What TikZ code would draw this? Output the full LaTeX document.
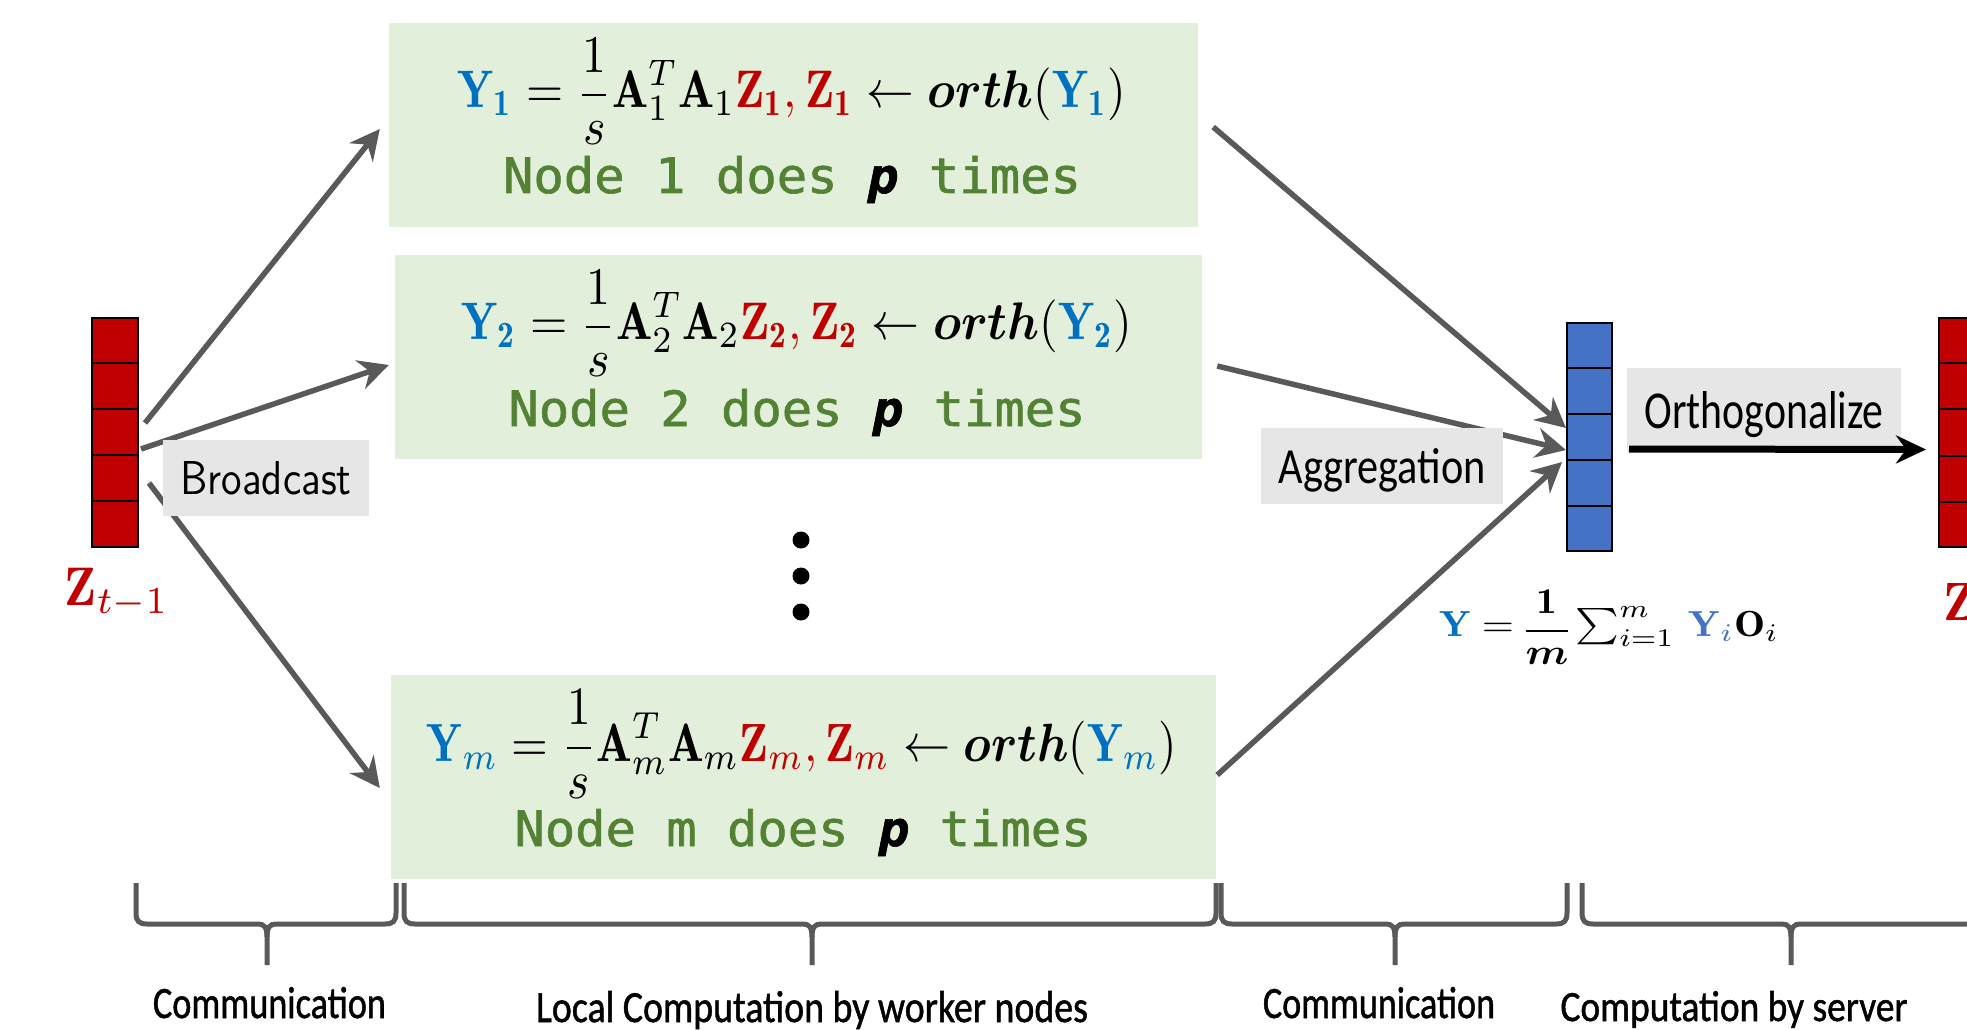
\RequirePackage{fix-cm}
\documentclass[tikz,border=0pt]{standalone}
\usepackage{amsmath,bm}
\usepackage{graphicx}
\usepackage{fontspec}
\newfontfamily\monofont[FakeBold=1.3]{DejaVu Sans Mono}
\newfontfamily\lblfont{Carlito}
\newfontfamily\botfont[FakeBold=1.2]{Carlito}
\usetikzlibrary{arrows.meta,calc}
\definecolor{ybl}{HTML}{0070C0}
\definecolor{ylt}{HTML}{4472C4}
\definecolor{zrd}{HTML}{C00000}
\definecolor{grn}{HTML}{548235}
\definecolor{boxfill}{HTML}{E2EFDA}
\definecolor{lblfill}{HTML}{E7E6E6}
\definecolor{arrgray}{HTML}{595959}
\newcommand\myBrace[3]{%
  \draw[bracestyle] (#1,883) -- (#1,913) .. controls (#1,921) and (#1+3,924) .. (#1+11,924) -- (#2-9,924) .. controls (#2-3,924) and (#2,927) .. (#2,937) -- (#2,965);
  \draw[bracestyle] (#3,883) -- (#3,913) .. controls (#3,921) and (#3-3,924) .. (#3-11,924) -- (#2+9,924) .. controls (#2+3,924) and (#2,927) .. (#2,937);
}
\newcommand\myTightFrac[2]{\mathord{\vcenter{\hbox{\shortstack{$#1$\\[1.5pt]\rule{1.0em}{0.07em}\\[1.5pt]$#2$}}}}}
\tikzset{
  workbox/.style={rectangle, fill=boxfill, inner sep=0pt, minimum height=204pt},
  txt/.style={inner sep=0pt, outer sep=0pt},
  vecbox/.style={rectangle, draw=black, line width=2pt, inner sep=0pt, minimum width=46pt, minimum height=229pt},
  cellline/.style={draw=black, line width=2pt},
  lblbox/.style={rectangle, fill=lblfill, inner sep=0pt, text depth=0pt},
  garrow/.style={draw=arrgray, line width=5.5pt, -{Stealth[length=30pt,width=30pt,inset=10pt]}},
  karrow/.style={draw=black, line width=7pt, -{Stealth[length=30pt,width=28pt,inset=10pt]}},
  bracestyle/.style={draw=arrgray, line width=5pt},
  dotstyle/.style={circle, fill=black, inner sep=0pt, minimum size=17pt},
}
\begin{document}
\begin{tikzpicture}[x=1pt,y=-1pt]
\useasboundingbox (0,0) rectangle (1967,1030);
\clip (0,0) rectangle (1967,1030);

% worker boxes
\node[workbox, minimum width=809pt] (box1) at (793.5,125) {};
\node[workbox, minimum width=807pt] (box2) at (798.5,357) {};
\node[workbox, minimum width=825pt] (boxm) at (803.5,777) {};

% formulas
\node[txt] (f1) at (792,91) {\resizebox*{668pt}{106pt}{$\displaystyle {\color{ybl}\mathbf{Y_1}} = \frac{1}{s}\mathbf{A}_1^T\mathbf{A}_1{\color{zrd}\mathbf{Z_1},\mathbf{Z_1}} \leftarrow \bm{orth}({\color{ybl}\mathbf{Y_1}})$}};
\node[txt] (f2) at (797,323) {\resizebox*{671pt}{106pt}{$\displaystyle {\color{ybl}\mathbf{Y_2}} = \frac{1}{s}\mathbf{A}_2^T\mathbf{A}_2{\color{zrd}\mathbf{Z_2},\mathbf{Z_2}} \leftarrow \bm{orth}({\color{ybl}\mathbf{Y_2}})$}};
\node[txt] (fm) at (802,744) {\resizebox*{750pt}{108pt}{$\displaystyle {\color{ybl}\mathbf{Y}_m} = \frac{1}{s}\mathbf{A}_m^T\mathbf{A}_m{\color{zrd}\mathbf{Z}_m,\mathbf{Z}_m} \leftarrow \bm{orth}({\color{ybl}\mathbf{Y}_m})$}};

% node texts
\node[txt, anchor=base, text=grn] (n1) at (792,193) {\resizebox{578pt}{37pt}{\monofont Node 1 does {\color{black}\bfseries\itshape p} times}};
\node[txt, anchor=base, text=grn] (n2) at (797,426) {\resizebox{577pt}{37pt}{\monofont Node 2 does {\color{black}\bfseries\itshape p} times}};
\node[txt, anchor=base, text=grn] (nm) at (803,846) {\resizebox{577pt}{37pt}{\monofont Node m does {\color{black}\bfseries\itshape p} times}};

% dots
\node[dotstyle] (d1) at (801,540) {};
\node[dotstyle] (d2) at (801,576) {};
\node[dotstyle] (d3) at (801,612) {};

% vectors
\node[vecbox, fill=zrd] (zvec) at (115,432) {};
\node[vecbox, fill=ylt, minimum width=45pt, minimum height=228pt] (yvec) at (1589.5,437) {};
\node[vecbox, fill=zrd] (znext) at (1962,432.5) {};
\foreach \v in {zvec,yvec,znext}{
  \foreach \k in {1,...,4}{
    \draw[cellline] ($(\v.north west)!\k/5!(\v.south west)$) -- ($(\v.north east)!\k/5!(\v.south east)$);
  }
}

% vector labels
\node[txt] (zlab) at (117,593) {\resizebox*{104pt}{50pt}{$\color{zrd}\mathbf{Z}_{t-1}$}};
\node[txt, anchor=north west] (znlab) at (1943,583) {\resizebox{33pt}{37pt}{$\color{zrd}\mathbf{Z}$}};
\node[txt] (ylab) at (1609,627) {\resizebox*{340pt}{75pt}{$\displaystyle {\color{ybl}\mathbf{Y}} = \myTightFrac{\mathbf{1}}{\bm{m}}\textstyle\sum_{i=1}^{m}\,{\color{ylt}\mathbf{Y}_{i}}\mathbf{O}_i$}};

% broadcast arrows
\draw[garrow] ($(zvec.east)+(6,-9)$) -- ($(box1.west)+(-9,4)$);
\draw[garrow] ($(zvec.east)+(2,17)$) -- ($(box2.west)+(-6,8)$);
\draw[garrow] ($(zvec.east)+(10,51)$) -- ($(boxm.west)+(-11,11)$);

% aggregation arrows
\draw[garrow] ($(box1.east)+(15,2)$) -- ($(yvec.west)+(0,-9)$);
\draw[garrow] ($(box2.east)+(15,9)$) -- ($(yvec.west)+(0,13)$);
\draw[garrow] ($(boxm.east)+(1,-2)$) -- ($(yvec.west)+(-4,25)$);

% gray labels
\node[lblbox, minimum width=206pt, minimum height=76pt] (bcast) at (266,478) {\resizebox{171pt}{33pt}{\sffamily Broadcast}};
\node[lblbox, minimum width=242pt, minimum height=76pt] (aggr) at (1382,466) {\resizebox{207pt}{35pt}{\lblfont Aggregation}};
\node[lblbox, minimum width=274pt, minimum height=84pt] (orth) at (1764,410) {\resizebox{239pt}{37pt}{\lblfont Orthogonalize}};

% orthogonalize arrow
\draw[karrow] ($(yvec.east)+(16,12)$) -- ($(znext.west)+(-12,17)$);

% braces
\myBrace{136}{267}{396}
\myBrace{404}{812}{1216}
\myBrace{1221}{1395}{1567}
\myBrace{1582}{1791}{2000}

% bottom labels
\node[txt, anchor=base] (c1) at (269.5,1018) {\resizebox{233pt}{31pt}{\botfont Communication}};
\node[txt, anchor=base] (c2) at (812,1022) {\resizebox{552pt}{31pt}{\botfont Local Computation by worker nodes}};
\node[txt, anchor=base] (c3) at (1379,1018) {\resizebox{232pt}{31pt}{\botfont Communication}};
\node[txt, anchor=base] (c4) at (1734,1021) {\resizebox{347pt}{30pt}{\botfont Computation by server}};
\end{tikzpicture}
\end{document}
